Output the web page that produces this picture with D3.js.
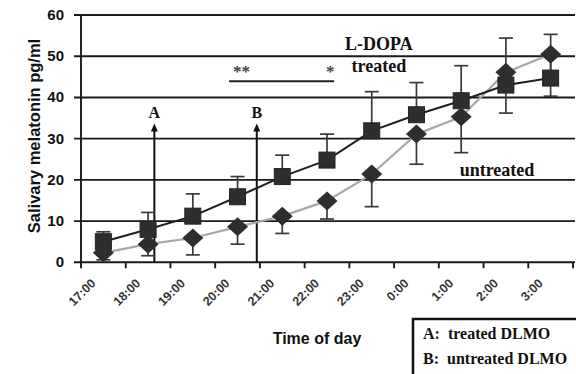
<!DOCTYPE html>
<html lang="en">
<meta charset="utf-8">
<style>
body { margin: 0; background: #fff; }
svg text { fill: #111; }
.grid line { stroke: #1a1a1a; stroke-width: 1.9; }
.ylab { font-family: 'Liberation Sans', Arial, sans-serif; font-weight: bold; font-size: 15px; }
.xlab { font-family: 'Liberation Sans', Arial, sans-serif; font-weight: bold; font-size: 12.5px; fill: #333; }
.serif { font-family: 'Liberation Serif', 'Times New Roman', serif; font-weight: bold; }
</style>
<body>
<div id="chart"></div>
<script src="https://cdnjs.cloudflare.com/ajax/libs/d3/7.8.5/d3.min.js"></script>
<script>
// values
var times = ["17:00", "18:00", "19:00", "20:00", "21:00", "22:00", "23:00", "0:00", "1:00", "2:00", "3:00"];
var treated = [5.0, 8.0, 11.2, 15.9, 20.8, 24.8, 31.9, 35.8, 39.2, 43.0, 44.7];
var treatedTop = [7.4, 12.1, 16.6, 20.8, 26.0, 31.1, 41.4, 43.6, 47.7, 54.4, 55.3];
var untreated = [2.3, 4.4, 5.9, 8.6, 11.2, 14.9, 21.4, 31.1, 35.3, 46.1, 50.5];
var untreatedLow = [0.6, 1.6, 1.8, 4.4, 7.0, 10.5, 13.5, 23.8, 26.6, 36.2, 40.3];
var yTicks = [0, 10, 20, 30, 40, 50, 60];
// DLMO arrows (category index position)
var dlmo = [{label: "A", pos: 1.14}, {label: "B", pos: 3.43}];

var width = 576, height = 374;
var svg = d3.select("#chart").append("svg")
    .attr("width", width)
    .attr("height", height);

// index scale: categories sit at integers, ticks at the half steps
var x = d3.scaleLinear().domain([-0.5, 10.5]).range([81, 573]);
var y = d3.scaleLinear().domain([0, 60]).range([262.3, 15]);

// horizontal grid + y ticks
var grid = svg.append("g").attr("class", "grid");
grid.selectAll("line").data(yTicks).enter().append("line")
    .attr("x1", 74).attr("x2", 575)
    .attr("y1", function(d) { return y(d); })
    .attr("y2", function(d) { return y(d); });
grid.append("line").attr("x1", x(-0.5)).attr("x2", x(-0.5)).attr("y1", y(0) + 1).attr("y2", y(60));

svg.selectAll(".ylab").data(yTicks).enter().append("text")
    .attr("class", "ylab")
    .attr("x", 64)
    .attr("y", function(d) { return y(d) + 5; })
    .attr("text-anchor", "end")
    .text(function(d) { return d; });

// x ticks between categories
var xTicks = d3.range(-0.5, 11, 1);
grid.selectAll(".xt").data(xTicks).enter().append("line")
    .attr("class", "xt")
    .attr("x1", function(d) { return x(d); })
    .attr("x2", function(d) { return x(d); })
    .attr("y1", y(0)).attr("y2", y(0) + 6);

svg.selectAll(".xlab").data(times).enter().append("text")
    .attr("class", "xlab")
    .attr("text-anchor", "end")
    .attr("transform", function(d, i) { return "translate(" + (x(i) - 7) + "," + 284 + ") rotate(-45)"; })
    .text(function(d) { return d; });

// axis titles
svg.append("text")
    .attr("transform", "translate(40," + 136 + ") rotate(-90)")
    .attr("text-anchor", "middle")
    .style("font-family", "'Liberation Sans', Arial, sans-serif")
    .style("font-weight", "bold")
    .style("font-size", "16.5px")
    .text("Salivary melatonin pg/ml");

svg.append("text")
    .attr("x", 317).attr("y", 344)
    .attr("text-anchor", "middle")
    .style("font-family", "'Liberation Sans', Arial, sans-serif")
    .style("font-weight", "bold")
    .style("font-size", "16px")
    .text("Time of day");

// DLMO arrows
var arrows = svg.append("g");
dlmo.forEach(function(a) {
  var ax = x(a.pos);
  arrows.append("line")
      .attr("x1", ax).attr("x2", ax)
      .attr("y1", y(0)).attr("y2", y(32.2))
      .attr("stroke", "#111").attr("stroke-width", 2);
  arrows.append("path")
      .attr("d", "M" + ax + "," + y(33.7) + "l-3.5,8h7z")
      .attr("fill", "#111");
  arrows.append("text")
      .attr("class", "serif")
      .attr("x", ax).attr("y", y(35.0))
      .attr("text-anchor", "middle")
      .style("font-size", "16px")
      .text(a.label);
});

// significance bar
svg.append("line")
    .attr("x1", x(2.81)).attr("x2", x(5.16))
    .attr("y1", y(43.9)).attr("y2", y(43.9))
    .attr("stroke", "#222").attr("stroke-width", 2);
svg.append("text").attr("class", "serif")
    .attr("x", x(3.09)).attr("y", y(45.0))
    .attr("text-anchor", "middle")
    .style("font-size", "17px").style("fill", "#444")
    .text("**");
svg.append("text").attr("class", "serif")
    .attr("x", x(5.07)).attr("y", y(45.0))
    .attr("text-anchor", "middle")
    .style("font-size", "17px").style("fill", "#444")
    .text("*");

// series labels
svg.append("text").attr("class", "serif")
    .attr("x", x(6.16)).attr("y", y(51.4))
    .attr("text-anchor", "middle").style("font-size", "18px")
    .text("L-DOPA");
svg.append("text").attr("class", "serif")
    .attr("x", x(6.16)).attr("y", y(46.1))
    .attr("text-anchor", "middle").style("font-size", "18px")
    .text("treated");
svg.append("text").attr("class", "serif")
    .attr("x", x(8.8)).attr("y", y(21.0))
    .attr("text-anchor", "middle").style("font-size", "18px")
    .text("untreated");

// lines
var line = d3.line()
    .x(function(d, i) { return x(i); })
    .y(function(d) { return y(d); });

svg.append("path").datum(untreated)
    .attr("d", line).attr("fill", "none")
    .attr("stroke", "#a8a8a8").attr("stroke-width", 2.2);
svg.append("path").datum(treated)
    .attr("d", line).attr("fill", "none")
    .attr("stroke", "#1e1e1e").attr("stroke-width", 2);

// error bars: treated up, untreated down
function errorBars(vals, ends) {
  var g = svg.append("g").attr("stroke", "#3a3a3a").attr("stroke-width", 1.7);
  vals.forEach(function(v, i) {
    g.append("line").attr("x1", x(i)).attr("x2", x(i)).attr("y1", y(v)).attr("y2", y(ends[i]));
    g.append("line").attr("x1", x(i) - 7).attr("x2", x(i) + 7).attr("y1", y(ends[i])).attr("y2", y(ends[i]));
  });
}
errorBars(treated, treatedTop);
errorBars(untreated, untreatedLow);

// markers
svg.selectAll(".sq").data(treated).enter().append("rect")
    .attr("class", "sq")
    .attr("x", function(d, i) { return x(i) - 8; })
    .attr("y", function(d) { return y(d) - 8; })
    .attr("width", 16).attr("height", 16)
    .attr("fill", "#2e2e2e").attr("stroke", "#222");

svg.selectAll(".dm").data(untreated).enter().append("path")
    .attr("class", "dm")
    .attr("d", function(d, i) {
      var cx = x(i), cy = y(d);
      return "M" + (cx - 10.5) + "," + cy + "L" + cx + "," + (cy - 9.5) + "L" + (cx + 10.5) + "," + cy + "L" + cx + "," + (cy + 9.5) + "Z";
    })
    .attr("fill", "#2e2e2e");

// legend box
svg.append("rect")
    .attr("x", 413).attr("y", 319)
    .attr("width", 180).attr("height", 70)
    .attr("fill", "#fff").attr("stroke", "#111").attr("stroke-width", 2.5);
svg.append("text").attr("class", "serif")
    .attr("x", 423).attr("y", 339).style("font-size", "16px")
    .attr("xml:space", "preserve")
    .text("A:  treated DLMO");
svg.append("text").attr("class", "serif")
    .attr("x", 423).attr("y", 364).style("font-size", "16px")
    .attr("xml:space", "preserve")
    .text("B:  untreated DLMO");
</script>
</body>
</html>
